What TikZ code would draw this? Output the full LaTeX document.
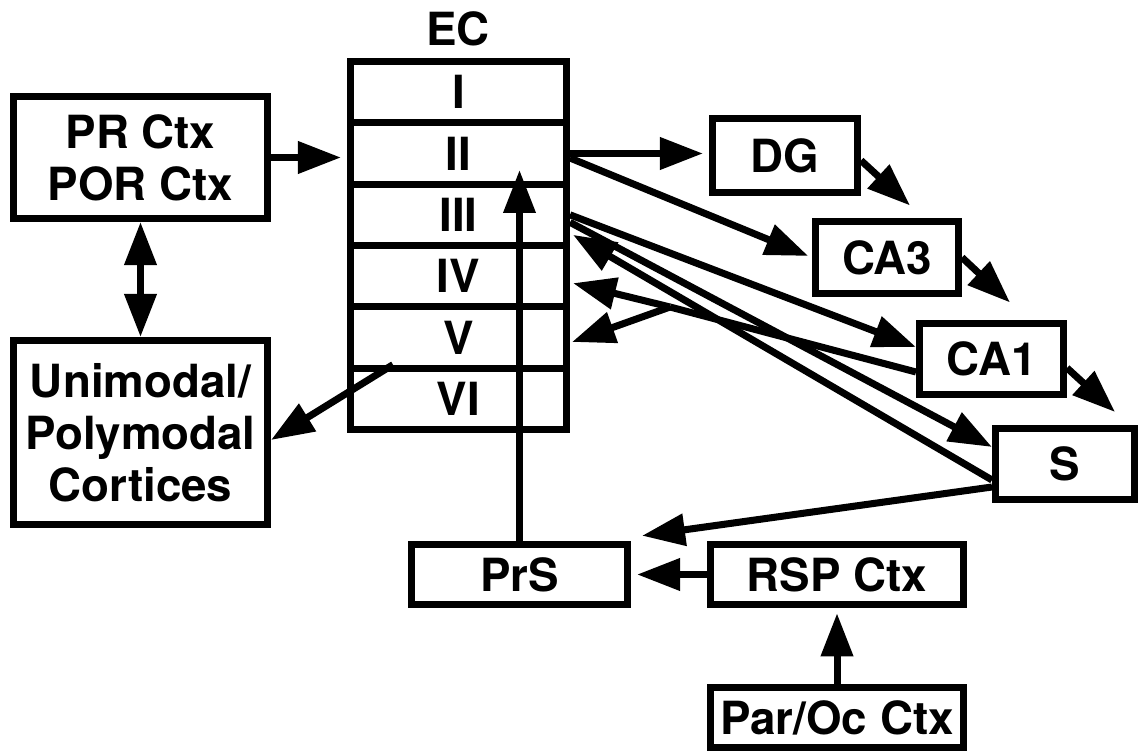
\documentclass[tikz,border=0pt]{standalone}
\usepackage{fontspec}
\setmainfont{TeX Gyre Heros}
\usetikzlibrary{arrows.meta,calc}

\tikzset{
    box/.style={draw, line width=4pt, outer sep=2pt, inner sep=2pt, align=center,
        font=\bfseries\fontsize{26}{29.5}\selectfont},
    layer/.style={box, minimum width=4.32cm, minimum height=1.2267cm},
    label/.style={font=\bfseries\fontsize{26}{29.5}\selectfont},
}

\begin{document}
\begin{tikzpicture}[line width=4pt, >={Triangle[length=0.86cm,width=0.62cm]}]
    \useasboundingbox (0,0) rectangle (22.76,15.04);

    % Cortical inputs on the left
    \node[box, minimum width=5.08cm, minimum height=2.44cm] (PR) at (2.81,11.89) {PR Ctx\\POR Ctx};
    \node[box, minimum width=5.08cm, minimum height=3.68cm] (Uni) at (2.81,6.39) {Unimodal/\\Polymodal\\Cortices};

    % Entorhinal cortex with its six layers
    \node[label] (EC) at (9.16,14.46) {EC};
    \foreach \lab [count=\i] in {I,II,III,IV,V,VI}
        \node[layer] (L\i) at (9.17,{13.81-1.2267*(\i-0.5)}) {\lab};

    % Hippocampal fields
    \node[box, minimum width=2.9cm, minimum height=1.48cm] (DG) at (15.7,11.93) {DG};
    \node[box, minimum width=2.86cm, minimum height=1.44cm] (CA3) at (17.74,9.89) {CA3};
    \node[box, minimum width=2.88cm, minimum height=1.42cm] (CA1) at (19.83,7.86) {CA1};
    \node[box, minimum width=2.78cm, minimum height=1.42cm] (S) at (21.3,5.76) {S};

    % Presubiculum and its inputs
    \node[box, minimum width=4.32cm, minimum height=1.21cm] (PrS) at (10.39,3.55) {PrS};
    \node[box, minimum width=5.06cm, minimum height=1.21cm] (RSP) at (16.74,3.55) {RSP Ctx};
    \node[box, minimum width=5.06cm, minimum height=1.2cm] (ParOc) at (16.74,0.69) {Par/Oc Ctx};

    % Split point of the CA1 return
    \coordinate (j) at (13.4,8.9);

    % Connections on the left
    \draw[->, shorten >=0.12cm] (PR.east) -- (PR.east -| L2.west);
    \draw[<->] (PR.south) -- (Uni.north);
    \draw[->] ($(L6.north west)+(0.92,0)$) -- ($(Uni.east)+(0,-0.15)$);

    % Layer II to DG and CA3
    \draw[->, shorten >=0.12cm] (L2.east) -- (L2.east -| DG.west);
    \draw[->, shorten >=0.08cm] ($(L2.east)+(0,-0.09)$) -- (CA3.west);

    % Trisynaptic chain
    \draw[->] ($(DG.east)+(0,-0.1)$) -- ++(0.98,-0.9);
    \draw[->] (CA3.east) -- ++(0.96,-0.9);
    \draw[->] ($(CA1.east)+(0,-0.18)$) -- ++(0.96,-0.88);

    % Layer III to CA1 and S, and back
    \draw[->] (L3.east) -- ($(CA1.west)+(0,0.24)$);
    \draw[->] ($(L3.east)+(0,-0.15)$) -- ($(S.west)+(0,0.34)$);
    \draw[->] ($(S.west)+(0,-0.32)$) -- ($(L3.east)+(0.06,-0.4)$);

    % CA1 back to layers IV and V
    \draw ($(CA1.west)+(0,-0.26)$) -- (j);
    \draw[->] (j) -- ($(L4.east)+(0.06,-0.14)$);
    \draw[->] (j) -- ($(L5.east)+(0.04,-0.09)$);

    % Presubicular loop
    \draw[->] ($(S.west)+(0,-0.46)$) -- ($(PrS.north east)+(0.22,0.1)$);
    \draw[->, shorten >=0.12cm] (RSP.west) -- (PrS.east);
    \draw[->, shorten >=0.1cm] (ParOc.north) -- (RSP.south);
    \draw[->, shorten >=0.33cm] (PrS.north) -- (PrS.north |- L2.center);
\end{tikzpicture}
\end{document}
